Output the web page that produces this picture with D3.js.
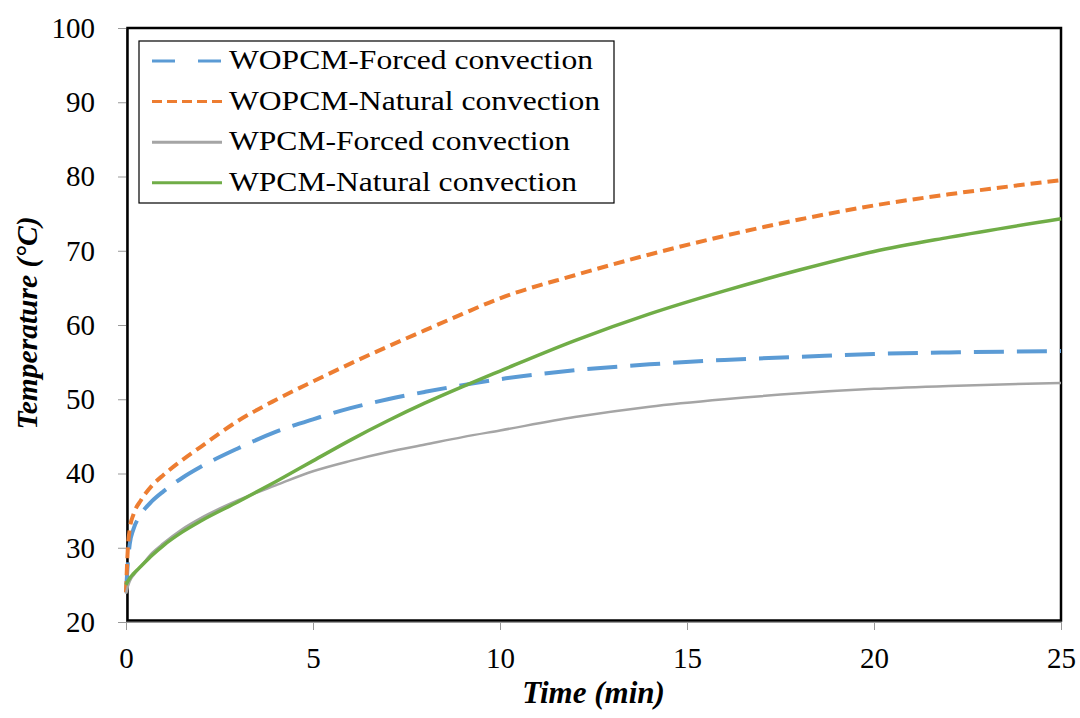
<!DOCTYPE html>
<html>
<head>
<meta charset="utf-8">
<script src="https://cdn.jsdelivr.net/npm/d3@7"></script>
<style>
  body { margin: 0; background: white; }
  #grafico { width: 1080px; height: 718px; }
</style>
</head>
<body>
<div id="grafico"></div>
<script>
// Datos (tiempo en min, temperatura en ºC)
const tiempos = [0, 0.05, 0.1, 0.2, 0.4, 0.7, 1, 1.5, 2, 3, 4, 5, 6, 7, 8, 9, 10, 12, 14, 16, 18, 20, 22, 25];
const wopcmForzada = [24, 28, 30.5, 32.5, 34.5, 36.3, 37.6, 39.4, 40.9, 43.4, 45.6, 47.3, 48.8, 50.0, 51.0, 51.9, 52.7, 53.9, 54.7, 55.3, 55.7, 56.1, 56.3, 56.5];
const wopcmNatural = [24, 30, 32.5, 34.5, 36.4, 38.4, 39.8, 41.8, 43.6, 47.1, 49.9, 52.4, 54.8, 57.1, 59.3, 61.5, 63.6, 66.7, 69.5, 72, 74.2, 76.1, 77.6, 79.5];
const wpcmForzada = [23.8, 24.8, 25.5, 26.3, 27.5, 29.3, 30.6, 32.5, 34, 36.4, 38.4, 40.3, 41.7, 42.9, 43.9, 44.9, 45.8, 47.6, 49.0, 50.0, 50.8, 51.4, 51.8, 52.2];
const wpcmNatural = [25, 25.5, 25.9, 26.5, 27.5, 29.0, 30.3, 32.1, 33.6, 36.2, 38.9, 41.7, 44.5, 47.1, 49.5, 51.7, 53.8, 57.9, 61.5, 64.6, 67.4, 69.9, 71.8, 74.3];

const ticksX = [0, 5, 10, 15, 20, 25];
const ticksY = [20, 30, 40, 50, 60, 70, 80, 90, 100];

// Series con su nombre y estilo
const series = [
  { nombre: "WOPCM-Forced convection", valores: wopcmForzada, color: "#5B9BD5", ancho: 4, dash: "30,13", dashLeyenda: "23,23" },
  { nombre: "WOPCM-Natural convection", valores: wopcmNatural, color: "#ED7D31", ancho: 4, dash: "11,6", dashLeyenda: "10,5" },
  { nombre: "WPCM-Forced convection", valores: wpcmForzada, color: "#A5A5A5", ancho: 2.5, dash: null, dashLeyenda: null },
  { nombre: "WPCM-Natural convection", valores: wpcmNatural, color: "#70AD47", ancho: 3.5, dash: null, dashLeyenda: null }
];

const width = 1080;
const height = 718;
const margin = { top: 28, right: 19, bottom: 96, left: 126 };

const svg = d3
  .select("#grafico")
  .append("svg")
  .attr("width", width)
  .attr("height", height);

// Escalas
const x = d3.scaleLinear().domain([0, 25]).range([margin.left, width - margin.right]);
const y = d3.scaleLinear().domain([20, 100]).range([height - margin.bottom, margin.top]);

const fuente = "'Liberation Serif', 'Times New Roman', serif";

// Eje X
const ejeX = svg
  .append("g")
  .attr("transform", `translate(0,${y(20)})`)
  .call(d3.axisBottom(x).tickValues(ticksX).tickSize(8).tickPadding(17).tickFormat(d3.format("d")));
ejeX.select(".domain").attr("stroke", "#999").attr("stroke-width", 1);
ejeX.selectAll(".tick line").attr("stroke", "#999");
ejeX.selectAll("text").style("font-family", fuente).style("font-size", "29px").attr("fill", "black");

// Eje Y
const ejeY = svg
  .append("g")
  .attr("transform", `translate(${x(0)},0)`)
  .call(d3.axisLeft(y).tickValues(ticksY).tickSize(8).tickPadding(23).tickFormat(d3.format("d")));
ejeY.select(".domain").attr("stroke", "#999").attr("stroke-width", 1);
ejeY.selectAll(".tick line").attr("stroke", "#999");
ejeY.selectAll("text").style("font-family", fuente).style("font-size", "29px").attr("fill", "black");

// Marco del area de trazado
svg
  .append("rect")
  .attr("x", x(0) + 1.5)
  .attr("y", y(100))
  .attr("width", x(25) - x(0) - 1.5)
  .attr("height", y(20) - y(100) - 1.5)
  .attr("fill", "none")
  .attr("stroke", "black")
  .attr("stroke-width", 2.5);

// Lineas de cada serie
const linea = d3
  .line()
  .x((d, i) => x(tiempos[i]))
  .y((d) => y(d))
  .curve(d3.curveMonotoneX);

svg
  .selectAll("lineasSeries")
  .data(series)
  .join("path")
  .attr("d", (d) => linea(d.valores))
  .attr("fill", "none")
  .attr("stroke", (d) => d.color)
  .attr("stroke-width", (d) => d.ancho)
  .attr("stroke-dasharray", (d) => d.dash)
  .attr("stroke-linejoin", "round");

// Leyenda
const leyenda = svg.append("g");
leyenda
  .append("rect")
  .attr("x", 139)
  .attr("y", 41)
  .attr("width", 475)
  .attr("height", 162)
  .attr("fill", "white")
  .attr("stroke", "black")
  .attr("stroke-width", 1.2);

const filas = leyenda
  .selectAll("filasLeyenda")
  .data(series)
  .join("g")
  .attr("transform", (d, i) => `translate(0,${61 + i * 40.6})`);

filas
  .append("line")
  .attr("x1", 152)
  .attr("x2", 222)
  .attr("y1", 0)
  .attr("y2", 0)
  .attr("stroke", (d) => d.color)
  .attr("stroke-width", 3)
  .attr("stroke-dasharray", (d) => d.dashLeyenda);

// El texto de la leyenda en el original esta algo estirado en horizontal
filas
  .append("text")
  .attr("transform", "translate(229,8) scale(1.17,1)")
  .text((d) => d.nombre)
  .style("font-family", fuente)
  .style("font-size", "27px");

// Titulos de los ejes
svg
  .append("text")
  .attr("x", (x(0) + x(25)) / 2)
  .attr("y", 703)
  .attr("text-anchor", "middle")
  .style("font-family", fuente)
  .style("font-size", "31px")
  .style("font-weight", "bold")
  .style("font-style", "italic")
  .text("Time (min)");

svg
  .append("text")
  .attr("transform", `translate(37,${(y(20) + y(100)) / 2 - 2}) rotate(-90)`)
  .attr("text-anchor", "middle")
  .style("font-family", fuente)
  .style("font-size", "29.5px")
  .style("font-weight", "bold")
  .style("font-style", "italic")
  .text("Temperature (°C)");
</script>
</body>
</html>
